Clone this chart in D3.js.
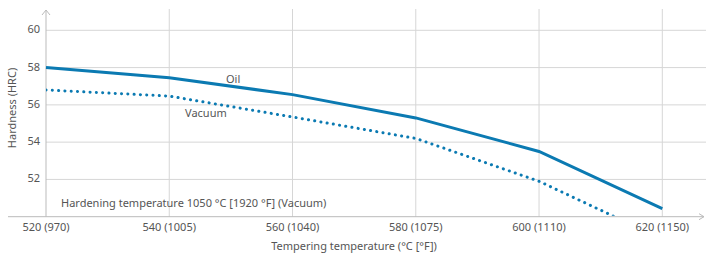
<!DOCTYPE html>
<html>
<head>
<meta charset="utf-8">
<script src="https://cdn.jsdelivr.net/npm/d3@7"></script>
<style>
  body { margin: 0; background: #fff; }
  text { font-family: "Noto Sans", sans-serif; fill: #555; }
</style>
</head>
<body>
<svg class="chart" width="706" height="255"></svg>
<script>
// tempering temperatures and the fahrenheit labels
let tempsC = [520, 540, 560, 580, 600, 620];
let tempsF = [970, 1005, 1040, 1075, 1110, 1150];
let oilHardness = [58.0, 57.45, 56.55, 55.3, 53.5, 50.43];
let vacuumHardness = [56.8, 56.47, 55.35, 54.2, 51.9, 48.8];
let yTicks = [52, 54, 56, 58, 60];

let margin = {top: 9, right: 10, bottom: 38, left: 46};
let svg = d3.select(".chart");
let width = 706, height = 255;
let plotBottom = 216.7;

let x = d3.scaleLinear().domain([520, 620]).range([46, 662.3]);
let y = d3.scaleLinear().domain([50, 60]).range([plotBottom, 30.3]);

let blue = "#0b7ab2";
let grid = "#d6d6d6";

// horizontal grid
svg.append("g")
  .selectAll("line")
  .data(yTicks).enter()
  .append("line")
  .attr("x1", x(520)).attr("x2", 706)
  .attr("y1", d => y(d)).attr("y2", d => y(d))
  .style("stroke", grid).style("stroke-width", 1);

// vertical grid
svg.append("g")
  .selectAll("line")
  .data(tempsC.slice(1)).enter()
  .append("line")
  .attr("x1", d => x(d)).attr("x2", d => x(d))
  .attr("y1", margin.top).attr("y2", plotBottom)
  .style("stroke", grid).style("stroke-width", 1);

// y tick labels
svg.append("g")
  .selectAll("text")
  .data(yTicks).enter()
  .append("text")
  .attr("x", 40).attr("y", d => y(d))
  .attr("text-anchor", "end")
  .attr("dominant-baseline", "middle")
  .style("font-size", "11px")
  .text(d => d);

// x tick labels
svg.append("g")
  .selectAll("text")
  .data(tempsC).enter()
  .append("text")
  .attr("x", d => x(d)).attr("y", 228)
  .attr("text-anchor", "middle")
  .attr("dominant-baseline", "middle")
  .style("font-size", "11px")
  .text((d, i) => d + " (" + tempsF[i] + ")");

// axes with arrows
svg.append("line")
  .attr("x1", x(520)).attr("x2", x(520))
  .attr("y1", 10).attr("y2", plotBottom)
  .style("stroke", "#bbb");
svg.append("path")
  .attr("d", "M" + (x(520) - 4) + ",15 L" + x(520) + ",10 L" + (x(520) + 4) + ",15")
  .style("fill", "none").style("stroke", "#bbb");
svg.append("line")
  .attr("x1", 8).attr("x2", 704)
  .attr("y1", plotBottom).attr("y2", plotBottom)
  .style("stroke", "#bbb");
svg.append("path")
  .attr("d", "M699," + (plotBottom - 3) + " L704," + plotBottom + " L699," + (plotBottom + 3))
  .style("fill", "none").style("stroke", "#bbb");

// clip to plot area
svg.append("clipPath").attr("id", "plot")
  .append("rect")
  .attr("x", x(520)).attr("y", 0)
  .attr("width", 706 - x(520)).attr("height", plotBottom - 1);

let line = d3.line()
  .x((d, i) => x(tempsC[i]))
  .y(d => y(d));

svg.append("path")
  .datum(vacuumHardness)
  .attr("d", line)
  .attr("clip-path", "url(#plot)")
  .style("fill", "none")
  .style("stroke", blue)
  .style("stroke-width", 3)
  .style("stroke-linecap", "round")
  .style("stroke-dasharray", "0.1 6.2");

svg.append("path")
  .datum(oilHardness)
  .attr("d", line)
  .style("fill", "none")
  .style("stroke", blue)
  .style("stroke-width", 3);

// labels
svg.append("text")
  .attr("x", 226).attr("y", 83)
  .style("font-size", "11px")
  .text("Oil");
svg.append("text")
  .attr("x", 185).attr("y", 117)
  .style("font-size", "11px")
  .text("Vacuum");
svg.append("text")
  .attr("x", 61).attr("y", 207)
  .style("font-size", "11px")
  .text("Hardening temperature 1050 °C [1920 °F] (Vacuum)");

// axis titles
svg.append("text")
  .attr("x", 354).attr("y", 247)
  .attr("text-anchor", "middle")
  .attr("dominant-baseline", "middle")
  .style("font-size", "11px")
  .text("Tempering temperature (°C [°F])");
svg.append("text")
  .attr("transform", "translate(13,108) rotate(-90)")
  .attr("text-anchor", "middle")
  .attr("dominant-baseline", "middle")
  .style("font-size", "11px")
  .text("Hardness (HRC)");
</script>
</body>
</html>
